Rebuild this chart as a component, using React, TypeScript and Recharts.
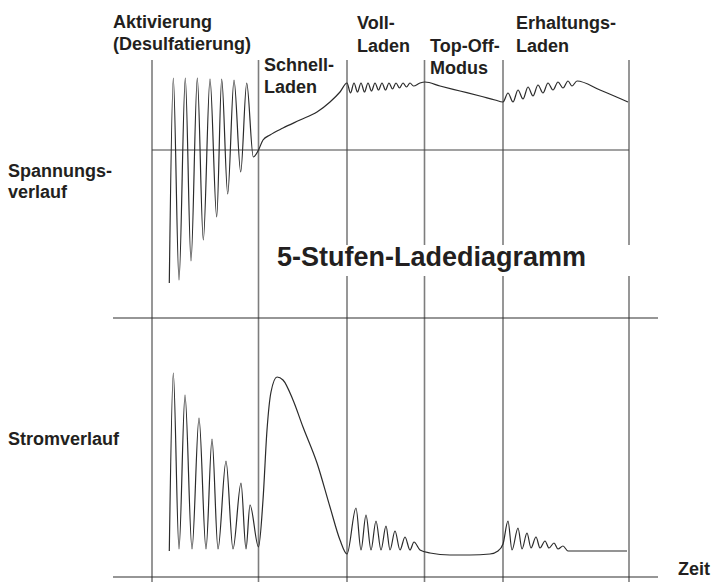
import { LineChart, Line, XAxis, YAxis, ReferenceLine } from "recharts"

// time axis: 0 = start of activation phase
const phaseBounds = [0, 106.5, 195, 272.5, 351, 477]

// voltage (relative to the reference line), [t, u]
const activationU = [
  [17.3, -133], [21.3, 72], [27, -130], [33.3, 72], [39, -111], [45.3, 72],
  [51.3, -90], [58, 71], [64.7, -67], [69.7, 71], [75.7, -44], [82, 70],
  [88.7, -22], [94.7, 67], [101.3, -7], [106.5, 0],
]
const fastU = [
  [111, 10], [118, 15], [131, 22], [148, 30], [165, 38], [178, 48], [188, 58], [195, 67],
]
const fullU = [
  [198.5, 57], [202, 67], [205.5, 58], [209, 67], [212.5, 58], [216, 67], [219.5, 59],
  [223, 67], [226.5, 60], [230, 67], [233.5, 60], [237, 67], [240.5, 61], [244, 67],
  [247.5, 62], [251, 67], [254.5, 63], [258, 67], [261.5, 64], [268, 67], [273, 68],
]
const topOffU = [[288, 64], [308, 59], [328, 54], [343, 50], [351, 48]]
const maintenanceU = [
  [356, 57], [361, 48], [366, 60], [371, 51], [376, 63], [381, 54], [386, 65],
  [391, 57], [396, 67], [401, 60], [406, 68], [411, 62], [416, 69], [420, 64],
  [425, 69], [448, 60], [476, 48],
]

// current (above zero line), [t, i]
const activationI = [
  [17.3, 26], [21.3, 204], [27, 28], [33, 182], [40, 28], [47, 159], [54, 28],
  [60, 138], [66, 28], [74, 116], [81, 28], [89, 94], [94, 28], [98, 72], [106.5, 30],
]
const fastI = [
  [111, 77], [115, 147], [119, 185], [125, 200], [131, 197], [141, 177], [151, 150],
  [165, 114], [178, 70], [188, 37], [195, 23],
]
const fullI = [
  [204, 69], [209, 27], [214, 62], [219, 27], [224, 56], [229, 27], [234, 51],
  [238, 27], [243, 46], [248, 27], [253, 40], [258, 27], [262, 35], [268, 27],
  [278, 24], [298, 22],
]
const topOffI = [[318, 22], [338, 23], [346, 26], [351, 33]]
const maintenanceI = [
  [356, 56], [360, 27], [366, 49], [370, 28], [375, 44], [379, 29], [384, 40],
  [388, 29], [393, 36], [397, 29], [402, 34], [406, 28], [411, 31], [416, 26],
  [428, 26], [475, 26],
]

const voltageData = [...activationU, ...fastU, ...fullU, ...topOffU, ...maintenanceU].map(
  ([t, u]) => ({ t, u })
)
const currentData = [...activationI, ...fastI, ...fullI, ...topOffI, ...maintenanceI].map(
  ([t, i]) => ({ t, i })
)

const FONT = "'Liberation Sans', Arial, Helvetica, sans-serif"
const INK = "#231f20"

const labels: { text: string; x: number; y: number }[] = [
  { text: "Aktivierung", x: 113, y: 28 },
  { text: "(Desulfatierung)", x: 113, y: 50 },
  { text: "Schnell-", x: 264, y: 71 },
  { text: "Laden", x: 264, y: 93 },
  { text: "Voll-", x: 357, y: 29 },
  { text: "Laden", x: 357, y: 52 },
  { text: "Top-Off-", x: 430, y: 52 },
  { text: "Modus", x: 430, y: 74 },
  { text: "Erhaltungs-", x: 516, y: 29 },
  { text: "Laden", x: 516, y: 52 },
  { text: "Spannungs-", x: 8, y: 177 },
  { text: "verlauf", x: 8, y: 198 },
  { text: "Stromverlauf", x: 8, y: 445 },
  { text: "Zeit", x: 678, y: 575 },
]

export default function App() {
  const W = 713
  const H = 582
  return (
    <div style={{ position: "absolute", left: 0, top: 0, width: W, height: H, background: "#fff" }}>
      <LineChart width={W} height={H} margin={{ top: 0, right: 0, bottom: 0, left: 0 }}>
        <XAxis type="number" dataKey="t" domain={[-152, 561]} allowDataOverflow hide />
        <YAxis yAxisId="u" type="number" domain={[-432, 150]} allowDataOverflow hide />
        <YAxis yAxisId="i" type="number" domain={[-5, 577]} allowDataOverflow hide />

        {phaseBounds.map((b, idx) =>
          idx < 2 ? (
            <ReferenceLine
              key={`v${idx}`}
              yAxisId="i"
              segment={[{ x: b, y: 517 }, { x: b, y: -5 }]}
              stroke="#7d7d7d"
              strokeWidth={1.6}
            />
          ) : (
            [
              <ReferenceLine
                key={`va${idx}`}
                yAxisId="i"
                segment={[{ x: b, y: 517 }, { x: b, y: 332 }]}
                stroke="#7d7d7d"
                strokeWidth={1.6}
              />,
              <ReferenceLine
                key={`vb${idx}`}
                yAxisId="i"
                segment={[{ x: b, y: 301 }, { x: b, y: -5 }]}
                stroke="#7d7d7d"
                strokeWidth={1.6}
              />,
            ]
          )
        )}
        <ReferenceLine
          yAxisId="u"
          segment={[{ x: 0, y: 0 }, { x: 477, y: 0 }]}
          stroke="#444"
          strokeWidth={1.2}
        />
        <ReferenceLine
          yAxisId="i"
          segment={[{ x: -39, y: 259 }, { x: 506, y: 259 }]}
          stroke="#2e2e2e"
          strokeWidth={1.2}
        />
        <ReferenceLine
          yAxisId="i"
          segment={[{ x: -39, y: 0 }, { x: 506, y: 0 }]}
          stroke="#2e2e2e"
          strokeWidth={1.2}
        />

        <Line
          yAxisId="u"
          data={voltageData}
          dataKey="u"
          type="monotone"
          stroke="#2b2b2b"
          strokeWidth={1.2}
          dot={false}
          activeDot={false}
          isAnimationActive={false}
        />
        <Line
          yAxisId="i"
          data={currentData}
          dataKey="i"
          type="monotone"
          stroke="#2b2b2b"
          strokeWidth={1.2}
          dot={false}
          activeDot={false}
          isAnimationActive={false}
        />
      </LineChart>

      <svg
        width={W}
        height={H}
        style={{ position: "absolute", left: 0, top: 0, pointerEvents: "none" }}
      >
        {labels.map((l, k) => (
          <text key={k} x={l.x} y={l.y} fontFamily={FONT} fontWeight="bold" fontSize={18} fill={INK}>
            {l.text}
          </text>
        ))}
        <text x={277} y={266} fontFamily={FONT} fontWeight="bold" fontSize={27} fill={INK}>
          5-Stufen-Ladediagramm
        </text>
      </svg>
    </div>
  )
}
